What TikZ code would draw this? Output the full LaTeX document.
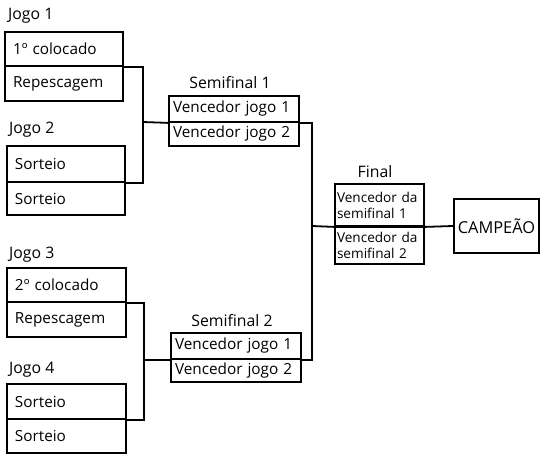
\documentclass[tikz,border=0pt]{standalone}
\usepackage{fontspec}
\setmainfont{Open Sans}
\begin{document}
\begin{tikzpicture}[x=1pt,y=-1pt,
  cell/.style={draw,line width=1.8pt,rectangle,inner xsep=0pt,inner ysep=0pt,
    font=\fontsize{15.3}{17}\selectfont,align=left},
  semicell/.style={cell,font=\fontsize{15.3}{17}\selectfont},
  smallcell/.style={cell,font=\fontsize{13.6}{16}\selectfont},
  champcell/.style={cell,align=center,font=\fontsize{16.4}{18}\selectfont},
  lbl/.style={font=\fontsize{15.8}{17}\selectfont,inner sep=0pt},
  conn/.style={line width=1.8pt}]
\useasboundingbox (0,0) rectangle (544,458);
% Jogo 1
\node[lbl,anchor=west] (l1) at (8,16) {Jogo 1};
\node[cell,minimum width=118pt,minimum height=34pt,text width=102pt] (j1a) at (64,49) {1º colocado};
\node[cell,minimum width=118pt,minimum height=35pt,text width=102pt] (j1b) at (64,83.5) {Repescagem};
% Jogo 2
\node[lbl,anchor=west] (l2) at (9,130) {Jogo 2};
\node[cell,minimum width=118pt,minimum height=36pt,text width=102pt] (j2a) at (66,164) {Sorteio};
\node[cell,minimum width=118pt,minimum height=33pt,text width=102pt] (j2b) at (66,198.5) {Sorteio};
% Jogo 3
\node[lbl,anchor=west] (l3) at (9,255) {Jogo 3};
\node[cell,minimum width=119pt,minimum height=34pt,text width=103pt] (j3a) at (66.5,285) {2º colocado};
\node[cell,minimum width=119pt,minimum height=35pt,text width=103pt] (j3b) at (66.5,319.5) {Repescagem};
% Jogo 4
\node[lbl,anchor=west] (l4) at (9,370) {Jogo 4};
\node[cell,minimum width=119pt,minimum height=35pt,text width=103pt] (j4a) at (66.5,401.5) {Sorteio};
\node[cell,minimum width=119pt,minimum height=34pt,text width=103pt] (j4b) at (66.5,436) {Sorteio};
% Semifinal 1
\node[lbl] (ls1) at (230,83) {Semifinal 1};
\node[semicell,minimum width=130pt,minimum height=26pt,text width=122pt] (s1a) at (234,109) {Vencedor jogo 1};
\node[semicell,minimum width=130pt,minimum height=24pt,text width=122pt] (s1b) at (234,134) {Vencedor jogo 2};
% Semifinal 2
\node[lbl] (ls2) at (232,321) {Semifinal 2};
\node[semicell,minimum width=130pt,minimum height=26pt,text width=122pt] (s2a) at (236,346) {Vencedor jogo 1};
\node[semicell,minimum width=130pt,minimum height=23pt,text width=122pt] (s2b) at (236,370.5) {Vencedor jogo 2};
% Final
\node[lbl] (lf) at (375,172) {Final};
\node[smallcell,minimum width=89pt,minimum height=42pt,text width=85pt] (fa) at (379.5,205) {Vencedor da\\semifinal 1};
\node[smallcell,minimum width=89pt,minimum height=38pt,text width=85pt] (fb) at (379.5,245) {Vencedor da\\semifinal 2};
% Champion
\node[champcell,minimum width=85pt,minimum height=54pt] (ch) at (496.5,226) {CAMPEÃO};
% connectors
\coordinate (m1) at (143,122);
\coordinate (m2) at (144,360);
\coordinate (m3) at (312,226);
\draw[conn] (j1a.south east) -| (m1) |- (j2a.south east);
\draw[conn] (m1) -- (s1a.south west);
\draw[conn] (j3a.south east) -| (m2) |- (j4a.south east);
\draw[conn] (m2) -- (s2a.south west);
\draw[conn] (s1a.south east) -| (m3) |- (s2a.south east);
\draw[conn] (m3) -- (fa.south west) -- (fa.south east) -- (ch.west);
\end{tikzpicture}
\end{document}
